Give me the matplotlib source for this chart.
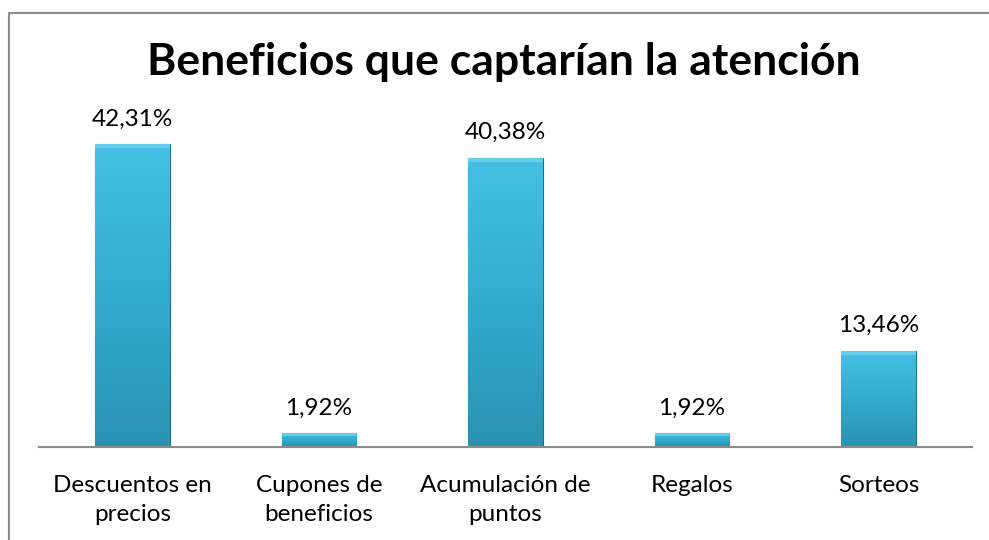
import numpy as np
import matplotlib.pyplot as plt
from matplotlib.patches import Rectangle
from matplotlib.colors import LinearSegmentedColormap

categories = ["Descuentos en\nprecios", "Cupones de\nbeneficios", "Acumulación de\npuntos", "Regalos", "Sorteos"]
values = [42.31, 1.92, 40.38, 1.92, 13.46]
value_labels = ["42,31%", "1,92%", "40,38%", "1,92%", "13,46%"]
title = "Beneficios que captarían la atención"

plt.rcParams['font.family'] = ['Lato', 'DejaVu Sans']

fig = plt.figure(figsize=(9.89, 5.40), dpi=100)
ax = fig.add_axes([39 / 989, 1 - 447 / 540, (972 - 39) / 989, 322 / 540])

x = np.arange(len(categories))
bars = ax.bar(x, values, width=0.40, color='#31A9CC', edgecolor='#1E6F87', linewidth=0.8, zorder=2)

# shading inside each bar: lighter on top, darker at the bottom
cmap = LinearSegmentedColormap.from_list('bev', ['#45C0E4', '#32ABCF', '#2A92B1'])
grad = np.linspace(0, 1, 100).reshape(-1, 1)
for b in bars:
    bx, by, bw, bh = b.get_x(), b.get_y(), b.get_width(), b.get_height()
    im = ax.imshow(grad, cmap=cmap, aspect='auto', extent=[bx, bx + bw, by, by + bh],
                   origin='upper', zorder=2.5)
    im.set_clip_path(b)
    # top bevel highlight
    ax.add_patch(Rectangle((bx, by + bh - min(bh * 0.2, 0.55)), bw, min(bh * 0.2, 0.55),
                           facecolor='#7FD8F0', edgecolor='none', alpha=0.6, zorder=2.6))

for xi, v, lab in zip(x, values, value_labels):
    ax.annotate(lab, (xi, v), xytext=(0, 13.5), textcoords='offset points',
                ha='center', va='baseline', fontsize=17.5, color='#000000')

ax.set_xlim(-0.5, len(categories) - 0.5)
ax.set_ylim(0, 45)
ax.set_xticks(x)
ax.set_xticklabels(categories, fontsize=17.5, linespacing=1.5)
ax.tick_params(axis='x', length=0, pad=20)
ax.set_yticks([])
for s in ['top', 'right', 'left']:
    ax.spines[s].set_visible(False)
ax.spines['bottom'].set_color('#8C8C8C')
ax.spines['bottom'].set_linewidth(1.5)

fig.text(504 / 989, 1 - 75 / 540, title, ha='center', va='baseline', fontsize=32, fontweight='bold')

fig.patches.append(Rectangle((9 / 989, -0.1), 1.2, 1 - 13 / 540 + 0.1, transform=fig.transFigure,
                             fill=False, edgecolor='#8C8C8C', linewidth=1.5))

fig.savefig('out.png', dpi=100)
